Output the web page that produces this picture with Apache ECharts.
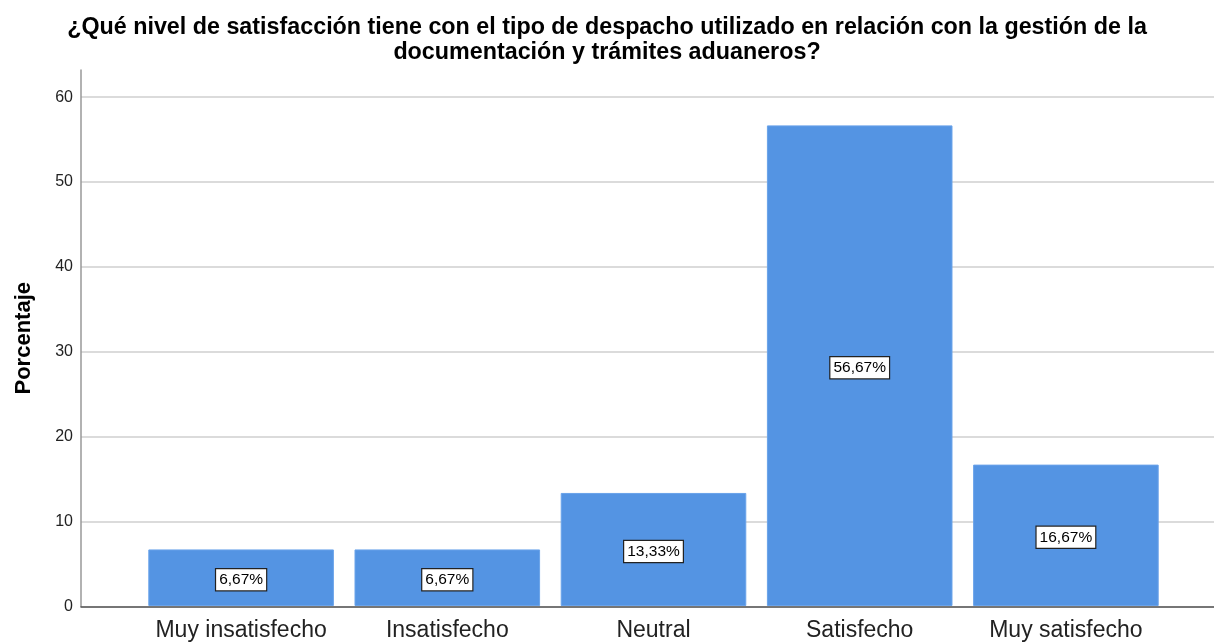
<!DOCTYPE html>
<html>
<head>
<meta charset="utf-8">
<script src="https://cdn.jsdelivr.net/npm/echarts@6/dist/echarts.min.js"></script>
<style>html,body{margin:0;padding:0;background:#fff}#c{width:1214px;height:642px}</style>
</head>
<body>
<div id="c"></div>
<script>
const titleText = '¿Qué nivel de satisfacción tiene con el tipo de despacho utilizado en relación con la gestión de la\ndocumentación y trámites aduaneros?';
const categories = ['Muy insatisfecho', 'Insatisfecho', 'Neutral', 'Satisfecho', 'Muy satisfecho'];
const values = [6.67, 6.67, 13.33, 56.67, 16.67];
const labels = ['6,67%', '6,67%', '13,33%', '56,67%', '16,67%'];
const yMax = 63.2;

const chart = echarts.init(document.getElementById('c'));
const font = '"Liberation Sans", Arial, sans-serif';
chart.setOption({
  animation: false,
  title: {
    text: titleText, left: 'center', top: 10, padding: [5, 0, 5, 20],
    textStyle: { fontFamily: font, fontSize: 23.3, fontWeight: 'bold', color: '#000', lineHeight: 25 }
  },
  grid: [
    { left: 81, right: 0, top: 70, bottom: 35.5 },
    { left: 138, right: 45, top: 70, bottom: 35.5 }
  ],
  xAxis: [
    { gridIndex: 0, type: 'category', data: [''], axisLine: { lineStyle: { color: '#555', width: 1.5 } },
      axisTick: { show: false }, axisLabel: { show: false } },
    { gridIndex: 1, type: 'category', data: categories, axisLine: { show: false }, axisTick: { show: false },
      axisLabel: { interval: 0, fontFamily: font, fontSize: 23, color: '#222', margin: 13 } }
  ],
  yAxis: [
    { gridIndex: 0, type: 'value', min: 0, max: yMax, interval: 10,
      name: 'Porcentaje', nameLocation: 'middle', nameGap: 46, nameRotate: 90,
      nameTextStyle: { fontFamily: font, fontSize: 22, fontWeight: 'bold', color: '#000' },
      axisLine: { show: true, lineStyle: { color: '#999', width: 1.5 } },
      axisTick: { show: false },
      axisLabel: { fontFamily: font, fontSize: 16, color: '#222', margin: 8, showMaxLabel: false,
        formatter: v => (Math.abs(v % 10) < 1e-6 ? String(v) : '') },
      splitLine: { show: true, showMaxLine: false, lineStyle: { color: '#cfcfcf', width: 1.5 } } },
    { gridIndex: 1, type: 'value', min: 0, max: yMax, interval: 10, show: false, splitLine: { show: false } }
  ],
  series: [{
    type: 'bar', xAxisIndex: 1, yAxisIndex: 1, data: values, barCategoryGap: '10%',
    itemStyle: { color: '#5494e3', borderColor: '#6aa3ea', borderWidth: 1 },
    label: {
      show: true, position: 'inside', formatter: p => labels[p.dataIndex],
      fontFamily: font, fontSize: 15.5, color: '#000', backgroundColor: '#fff',
      borderColor: '#222', borderWidth: 1.2, padding: [3, 3, 2, 3], offset: [0, 2]
    }
  }]
});
</script>
</body>
</html>
